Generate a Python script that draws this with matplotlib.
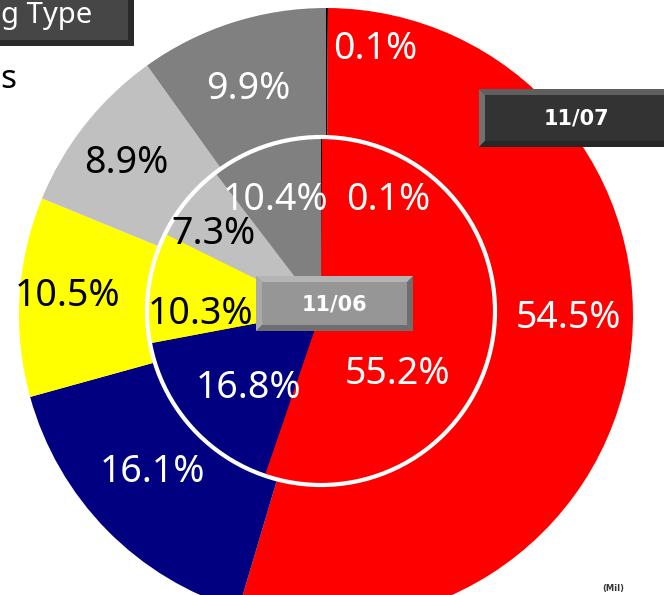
import numpy as np
import matplotlib.pyplot as plt
from matplotlib.patches import Polygon, Rectangle, Circle

W, H = 664, 595

# shares in %, clockwise from 12 o'clock
slice_colors = ['#000000', '#FF0000', '#000080', '#FFFF00', '#C0C0C0', '#808080']
text_colors = ['white', 'white', 'white', 'black', 'black', 'white']
outer_vals = [0.1, 54.5, 16.1, 10.5, 8.9, 9.9]   # 11/07
inner_vals = [0.1, 55.2, 16.8, 10.3, 7.3, 10.4]  # 11/06
outer_name = '11/07'
inner_name = '11/06'

plt.rcParams['font.family'] = ['Noto Sans', 'DejaVu Sans']

fig = plt.figure(figsize=(W / 100, H / 100), dpi=100)
ax = fig.add_axes([0, 0, 1, 1])


def yy(y):
    # picture rows run downwards, axes run upwards
    return H - y


def bevel_box(x0, y0, x1, y1, face, top, left, bottom, right, b=6):
    ax.add_patch(Rectangle((x0, yy(y1)), x1 - x0, y1 - y0, facecolor=face, lw=0, zorder=5))
    sides = [
        (top, [(x0, y0), (x1, y0), (x1 - b, y0 + b), (x0 + b, y0 + b)]),
        (left, [(x0, y0), (x0 + b, y0 + b), (x0 + b, y1 - b), (x0, y1)]),
        (bottom, [(x0, y1), (x0 + b, y1 - b), (x1 - b, y1 - b), (x1, y1)]),
        (right, [(x1, y0), (x1, y1), (x1 - b, y1 - b), (x1 - b, y0 + b)]),
    ]
    for col, pts in sides:
        ax.add_patch(Polygon([(px, yy(py)) for px, py in pts], closed=True,
                             facecolor=col, lw=0, zorder=6))


def ring_labels(wedges, vals, cx, cy, r, frac, nudge):
    for i, (w, v) in enumerate(zip(wedges, vals)):
        mid = np.deg2rad((w.theta1 + w.theta2) / 2)
        x = cx + r * frac * np.cos(mid)
        y = cy + r * frac * np.sin(mid)
        dx, dy = nudge.get(i, (0, 0))
        ax.text(x + dx, y + dy, f'{v}%', color=text_colors[i], fontsize=27,
                ha='center', va='center', zorder=4)


# outer ring (11/07)
ocx, ocy, orad = 326, yy(315), 307
ow, _ = ax.pie(outer_vals, colors=slice_colors, startangle=90, counterclock=False,
               radius=orad, center=(ocx, ocy), wedgeprops=dict(linewidth=0))
ring_labels(ow, outer_vals, ocx, ocy, orad, 0.8,
            {0: (48, 20), 1: (0, 33), 2: (2, 15), 3: (-13, 4), 4: (-7, 0), 5: (-3, -8)})

# inner pie (11/06)
icx, icy, irad = 321, yy(311), 174
iw, _ = ax.pie(inner_vals, colors=slice_colors, startangle=90, counterclock=False,
               radius=irad, center=(icx, icy), wedgeprops=dict(linewidth=0))
for w in iw:
    w.set_zorder(2)
ax.add_patch(Circle((icx, icy), irad, fill=False, edgecolor='white', lw=3, zorder=3))
ring_labels(iw, inner_vals, icx, icy, irad, 0.7,
            {0: (67, -11), 1: (-44, -43), 2: (20, 3), 3: (0, -20), 4: (-13, 0), 5: (-6, -4)})

# boxes
bevel_box(-10, -10, 134, 46, '#464646', '#464646', '#464646', '#2a2a2a', '#2a2a2a')
ax.text(1, yy(16), 'g Type', color='white', fontsize=21, ha='left', va='center', zorder=7)
ax.text(0, yy(80), 's', color='black', fontsize=24, ha='left', va='center', zorder=7)

bevel_box(479, 89, 680, 147, '#333333', '#5f5f5f', '#707070', '#262626', '#262626')
ax.text(576, yy(118), outer_name, color='white', fontsize=15, fontweight='bold',
        family='DejaVu Sans', ha='center', va='center', zorder=7)

bevel_box(256, 276, 413, 331, '#969696', '#b4b4b4', '#aaaaaa', '#6e6e6e', '#6e6e6e')
ax.text(334, yy(304), inner_name, color='white', fontsize=15, fontweight='bold',
        family='DejaVu Sans', ha='center', va='center', zorder=7)

ax.text(613, yy(593), '(Mil)', color='#333333', fontsize=6, fontweight='bold',
        family='DejaVu Sans', ha='center', va='bottom', zorder=7)

ax.set_xlim(0, W)
ax.set_ylim(0, H)
ax.set_aspect('equal')
ax.set_axis_off()
fig.savefig('out.png', dpi=100)
